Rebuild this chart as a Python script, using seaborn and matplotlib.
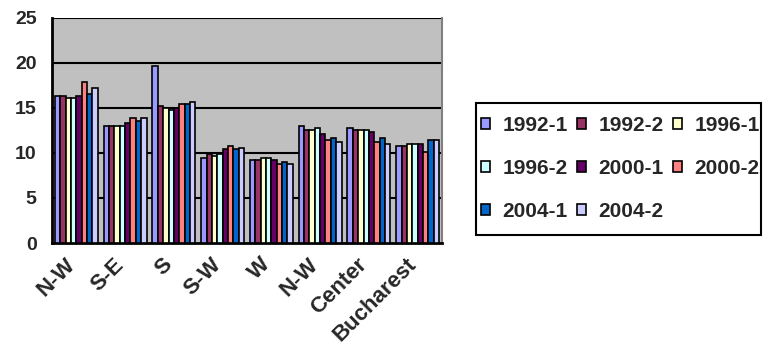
import matplotlib
matplotlib.use("Agg")
import matplotlib.pyplot as plt
import matplotlib.transforms as mtransforms
from matplotlib.patches import Rectangle
import seaborn as sns
import pandas as pd

regions = ["N-W", "S-E", "S", "S-W", "W", "N-W", "Center", "Bucharest"]
series = ["1992-1", "1992-2", "1996-1", "1996-2", "2000-1", "2000-2", "2004-1", "2004-2"]
colors = ["#9999FF", "#993366", "#FFFFCC", "#CCFFFF", "#660066", "#FF8080", "#0066CC", "#CCCCFF"]

v_1992_1 = [16.3, 13.0, 19.7, 9.4, 9.2, 13.0, 12.8, 10.8]
v_1992_2 = [16.3, 13.0, 15.2, 9.9, 9.2, 12.6, 12.6, 10.8]
v_1996_1 = [16.1, 13.0, 15.0, 9.7, 9.4, 12.6, 12.6, 11.0]
v_1996_2 = [16.1, 13.0, 14.8, 9.9, 9.4, 12.8, 12.6, 11.0]
v_2000_1 = [16.3, 13.3, 15.0, 10.4, 9.2, 12.1, 12.3, 11.0]
v_2000_2 = [17.9, 13.9, 15.4, 10.8, 8.8, 11.4, 11.2, 10.1]
v_2004_1 = [16.6, 13.5, 15.4, 10.4, 9.0, 11.7, 11.7, 11.4]
v_2004_2 = [17.2, 13.9, 15.7, 10.6, 8.8, 11.2, 11.0, 11.4]
values = [v_1992_1, v_1992_2, v_1996_1, v_1996_2, v_2000_1, v_2000_2, v_2004_1, v_2004_2]

rows = []
for s, vals in zip(series, values):
    for i, v in enumerate(vals):
        rows.append({"slot": i, "series": s, "value": v})
df = pd.DataFrame(rows)

sns.set_theme(style="white")
plt.rcParams["font.family"] = ["Liberation Sans", "DejaVu Sans"]
plt.rcParams["font.weight"] = "bold"

W, H = 763, 356
fig = plt.figure(figsize=(W / 100, H / 100), dpi=100)
ax = fig.add_axes([52 / W, 1 - 243 / H, 390 / W, 225 / H])
ax.set_facecolor("#C0C0C0")

sns.barplot(data=df, x="slot", y="value", hue="series", hue_order=series,
            palette=colors, width=0.88, gap=0, edgecolor="black", linewidth=1.2,
            saturation=1, errorbar=None, ax=ax, zorder=3)

ax.set_xlim(-0.5, 7.5)
ax.set_ylim(0, 25)
ax.set_yticks([0, 5, 10, 15, 20, 25])
ax.set_yticklabels(["0", "5", "10", "15", "20", "25"], fontsize=14, fontweight="bold")
for y in [5, 10, 15, 20, 25]:
    ax.axhline(y, color="black", linewidth=1.5, zorder=1)
ax.set_xticks(range(8))
ax.set_xticklabels(regions, rotation=45, ha="right", rotation_mode="anchor",
                   fontsize=16, fontweight="bold")
ax.set_xticks([i - 0.5 for i in range(9)], minor=True)
ax.tick_params(axis="x", which="major", length=0, pad=8)
ax.tick_params(axis="x", which="minor", length=5, width=1.5, color="black", direction="out")
ax.tick_params(axis="y", length=7, width=1.5, color="black", direction="out", pad=4)
off = mtransforms.ScaledTranslation(-0.12, 0, fig.dpi_scale_trans)
for lab in ax.get_xticklabels():
    lab.set_transform(lab.get_transform() + off)
ax.set_xlabel("")
ax.set_ylabel("")
for side in ["left", "bottom"]:
    ax.spines[side].set_color("black")
    ax.spines[side].set_linewidth(2)
ax.spines["top"].set_visible(False)
ax.spines["right"].set_color("#808080")
ax.spines["right"].set_linewidth(1.5)

handles, labels = ax.get_legend_handles_labels()
ax.get_legend().remove()
order = [0, 3, 6, 1, 4, 7, 2, 5]  # row-major filling like the original
handles = [handles[i] for i in order]
labels = [labels[i] for i in order]
leg = fig.legend(handles, labels, loc="upper left", bbox_to_anchor=(481 / W, 1 - 116 / H),
                 ncol=3, fontsize=15, frameon=False,
                 handlelength=0.42, handleheight=0.42, handletextpad=0.6, columnspacing=0.45,
                 labelspacing=1.15, borderpad=0, borderaxespad=0)
for t in leg.get_texts():
    t.set_fontweight("bold")
fig.patches.append(Rectangle((476 / W, 1 - 235 / H), 285 / W, 132 / H,
                             transform=fig.transFigure, fill=False,
                             edgecolor="black", linewidth=1.5))

fig.savefig("out.png", dpi=100)
